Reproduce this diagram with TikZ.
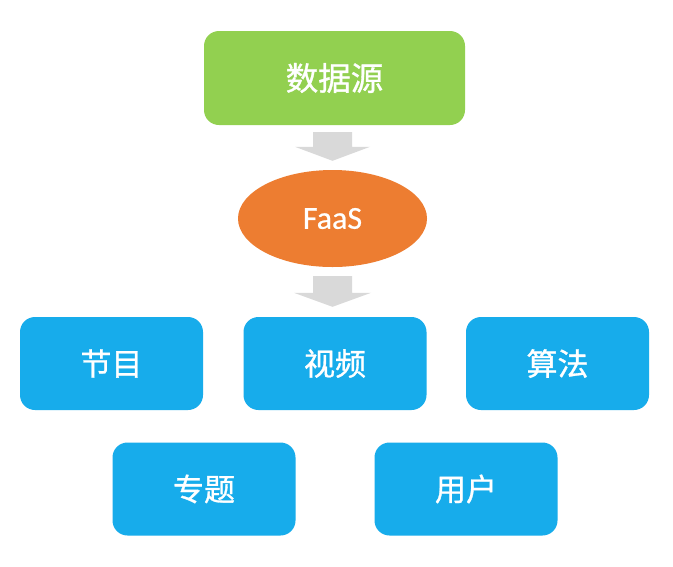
\documentclass[tikz,border=0pt]{standalone}
\usepackage{fontspec}
\newfontfamily\cjk[FakeBold=1]{Noto Sans CJK SC}
\newfontfamily\latinf[FakeBold=0.6]{Carlito}
\usetikzlibrary{shapes.geometric,calc}
\definecolor{srcgreen}{HTML}{92D050}
\definecolor{faasorange}{HTML}{ED7D31}
\definecolor{boxblue}{HTML}{17ACEB}
\definecolor{arrowgrey}{HTML}{D9D9D9}
\tikzset{
  srcbox/.style={rectangle, rounded corners=15pt, fill=srcgreen, text=white,
    minimum width=261pt, minimum height=94pt, inner sep=0pt,
    font=\cjk\fontsize{32.5}{32.5}\selectfont},
  faasnode/.style={ellipse, fill=faasorange, text=white,
    minimum width=189pt, minimum height=97pt, inner sep=0pt,
    font=\latinf\fontsize{32}{32}\selectfont},
  bluebox/.style={rectangle, rounded corners=15pt, fill=boxblue, text=white,
    minimum width=183pt, minimum height=93pt, inner sep=0pt,
    font=\cjk\fontsize{31}{31}\selectfont},
  blockarrow/.style={fill=arrowgrey}
}
\begin{document}
\begin{tikzpicture}[x=1pt,y=-1pt]
\useasboundingbox[fill=white] (0,0) rectangle (673,566);
\node[srcbox] (src) at (334.5,78) {数据源};
\node[faasnode] (faas) at (332.5,218.5) {FaaS};
\node[bluebox] (jm) at (111.5,363.5) {节目};
\node[bluebox] (sp) at (335,363.5) {视频};
\node[bluebox] (sf) at (557.5,363.5) {算法};
\node[bluebox] (zt) at (204,489) {专题};
\node[bluebox] (yh) at (466,489) {用户};
% arrow 1
\coordinate (a1s) at ($(src.south -| faas.north)+(0,7)$);
\coordinate (a1t) at ($(faas.north)+(0,-9)$);
\fill[blockarrow] ($(a1s)+(-19.5,0)$) -- ($(a1s)+(19.5,0)$) -- ($(a1t)+(19.5,-14)$)
  -- ($(a1t)+(37.5,-14)$) -- (a1t) -- ($(a1t)+(-37.5,-14)$) -- ($(a1t)+(-19.5,-14)$) -- cycle;
% arrow 2
\coordinate (a2s) at ($(faas.south)+(0,9)$);
\coordinate (a2t) at ($(sp.north -| faas.south)+(0,-10)$);
\fill[blockarrow] ($(a2s)+(-19.5,0)$) -- ($(a2s)+(19.5,0)$) -- ($(a2t)+(19.5,-14)$)
  -- ($(a2t)+(38.5,-14)$) -- (a2t) -- ($(a2t)+(-38.5,-14)$) -- ($(a2t)+(-19.5,-14)$) -- cycle;
\end{tikzpicture}
\end{document}
